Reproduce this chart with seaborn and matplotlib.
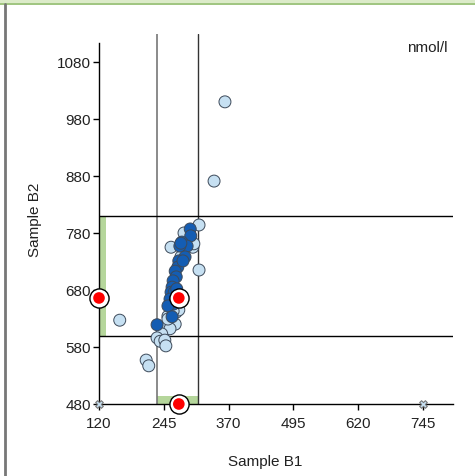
import matplotlib
matplotlib.use("Agg")
import matplotlib.pyplot as plt
import seaborn as sns
import pandas as pd

# ========== data ==========
light_b1 = [363, 342, 313, 291, 284, 259, 301, 303, 313, 278, 269, 274, 253, 259,
            267, 249, 257, 241, 232, 238, 247, 249, 160, 211, 216, 261, 270, 253, 263]
light_b2 = [1010, 871, 794, 780, 780, 755, 755, 761, 715, 738, 641, 645, 634, 626,
            620, 615, 612, 603, 596, 590, 592, 582, 627, 557, 547, 661, 671, 629, 643]

dark_b1 = [296, 297, 280, 290, 276, 286, 274, 272, 267, 269, 263, 261, 259, 265,
           257, 263, 253, 261, 232, 282, 270, 278]
dark_b2 = [787, 775, 764, 757, 757, 738, 731, 720, 713, 703, 696, 685, 676, 676,
           664, 655, 652, 633, 619, 731, 682, 762]

target_b1, target_b2 = 274, 666
ref_b1 = (232, 311)
ref_b2 = (600, 810)
x_ticks = [120, 245, 370, 495, 620, 745]
y_ticks = [480, 580, 680, 780, 880, 980, 1080]
outlier_b1 = [120, 745]
outlier_b2 = [480, 480]

df = pd.DataFrame({
    "Sample B1": light_b1 + dark_b1,
    "Sample B2": light_b2 + dark_b2,
    "group": ["light"] * len(light_b1) + ["dark"] * len(dark_b1),
})

sns.set_style("white")
plt.rcParams["font.family"] = ["Liberation Sans", "DejaVu Sans"]

fig = plt.figure(figsize=(4.75, 4.77), dpi=100)
W, H = 475, 477
ax = fig.add_axes([99 / W, (H - 405) / H, (453 - 99) / W, (405 - 35) / H])

# frame decoration: green band on top, gray line at left
fig.patches.append(plt.Rectangle((0, (H - 4) / H), 1, 4 / H, transform=fig.transFigure,
                                 facecolor="#dcebc9", edgecolor="none"))
fig.lines.append(plt.Line2D([0, 1], [(H - 4.5) / H] * 2, transform=fig.transFigure,
                            color="#8fbb6a", lw=1.2))
fig.lines.append(plt.Line2D([4.5 / W, 4.5 / W], [0, (H - 5) / H], transform=fig.transFigure,
                            color="#777777", lw=2))

ax.set_xlim(120, 803)
ax.set_ylim(480, 1129)

# reference ranges
ax.axhspan(ref_b2[0], ref_b2[1], xmin=0, xmax=7 / 354, color="#b5d69b", lw=0, zorder=1)
ax.axvspan(ref_b1[0], ref_b1[1], ymin=0, ymax=8 / 370, color="#b5d69b", lw=0, zorder=1)
ax.axvline(ref_b1[0], color="#777777", lw=1.2, zorder=1)
ax.axvline(ref_b1[1], color="#333333", lw=1, zorder=1)
for v in ref_b2:
    ax.axhline(v, color="black", lw=1, zorder=1)

sns.scatterplot(data=df, x="Sample B1", y="Sample B2", hue="group",
                palette={"light": "#c6e0f2", "dark": "#145db3"},
                edgecolor="#3d4a5a", linewidth=0.7, s=74, legend=False, ax=ax, zorder=3)

ax.scatter(outlier_b1, outlier_b2, marker="X", s=30, facecolor="#c6e0f2",
           edgecolor="#777777", linewidth=0.8, clip_on=False, zorder=4)

tx = [120, target_b1, target_b1]
ty = [target_b2, target_b2, 480]
ax.scatter(tx, ty, s=190, facecolor="white", edgecolor="black", linewidth=1,
           clip_on=False, zorder=5)
ax.scatter(tx, ty, s=70, facecolor="#ff0000", edgecolor="none", clip_on=False, zorder=6)

ax.set_xticks(x_ticks)
ax.set_yticks(y_ticks)
ax.tick_params(axis="both", length=4, width=1, color="black", labelsize=11,
               labelcolor="#222222", left=True, bottom=True, pad=2)
ax.tick_params(axis="x", pad=5)
for side in ["top", "right"]:
    ax.spines[side].set_visible(False)
for side in ["left", "bottom"]:
    ax.spines[side].set_color("black")
    ax.spines[side].set_linewidth(1)
ax.spines["left"].set_bounds(480, 1113)

ax.set_xlabel("Sample B1", fontsize=11, color="#222222")
ax.set_ylabel("Sample B2", fontsize=11, color="#222222")
ax.xaxis.set_label_coords((265 - 99) / 354, -(455 - 405) / 370)
ax.yaxis.set_label_coords(-(99 - 42) / 354, 0.5)

ax.text(0.985, 0.985, "nmol/l", transform=ax.transAxes, ha="right", va="top",
        fontsize=11, color="#222222")

fig.savefig("out.png", dpi=100)
